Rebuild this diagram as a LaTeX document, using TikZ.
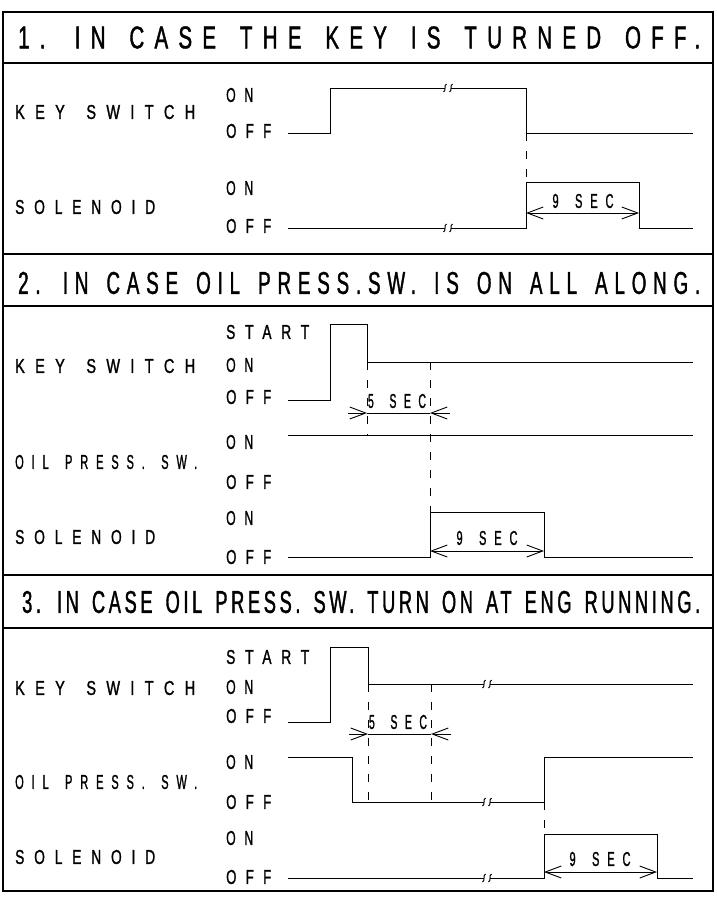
\documentclass[tikz,border=0pt]{standalone}
\usepackage{fontspec}
\usepackage{graphicx}
\setmainfont{Liberation Sans}
\newfontfamily\headfont[FakeStretch=0.6,FakeBold=1.2,LetterSpace=30,WordSpace=1.5]{Liberation Sans}
\newfontfamily\sigfont[FakeStretch=0.7,FakeBold=1.2,LetterSpace=50,WordSpace=1.5]{Liberation Sans}
\usetikzlibrary{arrows.meta}

\tikzset{
  frame/.style={line width=1.3pt},
  wave/.style={line width=1pt, line join=miter},
  guide/.style={line width=1pt, dash pattern=on 8pt off 10pt},
  dimline/.style={line width=0.9pt},
  barb/.tip={Straight Barb[length=16pt,width=12pt]},
  siglabel/.style={anchor=west, inner sep=0pt},
  dimlabel/.style={inner sep=0pt},
  headline/.style={anchor=west, inner sep=0pt}
}
% small break mark on a long level
\newcommand{\wavebreak}[2]{%
  \draw[wave] (#1-1.5,#2-4) .. controls (#1-5,#2-2) and (#1-1,#2+2) .. (#1-4.5,#2+4);
  \draw[wave] (#1+4.5,#2-4) .. controls (#1+1,#2-2) and (#1+5,#2+2) .. (#1+1.5,#2+4);}
\newcommand{\headtext}[2]{\resizebox{#1}{22pt}{\headfont\fontsize{30pt}{30pt}\selectfont #2}}
\newcommand{\sigtext}[2]{\resizebox{#1}{14pt}{\sigfont\fontsize{18pt}{18pt}\selectfont #2}}

\begin{document}
\begin{tikzpicture}[x=1pt,y=-1pt]
  \fill[white] (0,0) rectangle (716,899);
  \useasboundingbox (0,0) rectangle (716,899);

  % frame and title bars
  \draw[frame] (3,12) rectangle (713,891);
  \draw[frame] (3,63) -- (713,63);
  \draw[frame] (3,254) -- (713,254);
  \draw[frame] (3,306) -- (713,306);
  \draw[frame] (3,575) -- (713,575);
  \draw[frame] (3,628) -- (713,628);

  \node[headline] (head1) at (18,37.5) {\headtext{682pt}{1. IN CASE THE KEY IS TURNED OFF.}};
  \node[headline] (head2) at (18,283) {\headtext{682pt}{\addfontfeature{LetterSpace=22}2. IN CASE OIL PRESS.SW. IS ON ALL ALONG.}};
  \node[headline] (head3) at (22,602) {\headtext{678pt}{\addfontfeature{LetterSpace=12}3. IN CASE OIL PRESS. SW. TURN ON AT ENG RUNNING.}};

  % 1. key turned off
  \node[siglabel] (key1) at (15,112) {\sigtext{180pt}{KEY SWITCH}};
  \node[siglabel] (key1on) at (226,95) {\sigtext{27pt}{ON}};
  \node[siglabel] (key1off) at (226,131) {\sigtext{45pt}{OFF}};
  \node[siglabel] (sol1) at (15,207) {\sigtext{140pt}{SOLENOID}};
  \node[siglabel] (sol1on) at (226,188) {\sigtext{27pt}{ON}};
  \node[siglabel] (sol1off) at (226,226) {\sigtext{45pt}{OFF}};

  \draw[wave] (288,133) -- (330,133) -- (330,88) -- (445,88);
  \draw[wave] (451,88) -- (526,88) -- (526,133) -- (693,133);
  \wavebreak{448}{88}
  \draw[guide] (526,133) -- (526,182);
  \draw[wave] (288,228) -- (445,228);
  \draw[wave] (451,228) -- (526,228) -- (526,182) -- (639,182) -- (639,228) -- (693,228);
  \wavebreak{448}{228}

  \coordinate (t1a) at (526,213);
  \coordinate (t1b) at (639,213);
  \draw[dimline, barb-barb] (t1a) -- (t1b);
  \node[dimlabel] (t1) at (583,201) {\sigtext{61pt}{9 SEC}};

  % 2. oil press. sw. on all along
  \node[siglabel] (key2) at (15,366) {\sigtext{180pt}{KEY SWITCH}};
  \node[siglabel] (key2st) at (226,332) {\sigtext{83pt}{START}};
  \node[siglabel] (key2on) at (226,365) {\sigtext{27pt}{ON}};
  \node[siglabel] (key2off) at (226,397) {\sigtext{45pt}{OFF}};
  \node[siglabel] (oil2) at (15,462) {\sigtext{182pt}{OIL PRESS. SW.}};
  \node[siglabel] (oil2on) at (226,442) {\sigtext{27pt}{ON}};
  \node[siglabel] (oil2off) at (226,482) {\sigtext{45pt}{OFF}};
  \node[siglabel] (sol2) at (15,537) {\sigtext{140pt}{SOLENOID}};
  \node[siglabel] (sol2on) at (226,518) {\sigtext{27pt}{ON}};
  \node[siglabel] (sol2off) at (226,557) {\sigtext{45pt}{OFF}};

  \draw[wave] (288,400) -- (330,400) -- (330,324) -- (367,324) -- (367,362) -- (693,362);
  \draw[guide] (367,362) -- (367,435);
  \draw[guide] (430,362) -- (430,512);
  \draw[wave] (288,435) -- (693,435);
  \draw[wave] (288,557) -- (430,557) -- (430,512) -- (544,512) -- (544,557) -- (693,557);

  \coordinate (d2a) at (348,413);
  \coordinate (d2b) at (367,413);
  \coordinate (d2c) at (430,413);
  \coordinate (d2d) at (450,413);
  \draw[dimline, -barb] (d2a) -- (d2b);
  \draw[dimline, -barb] (d2d) -- (d2c);
  \draw[dimline] (d2b) -- (d2c);
  \node[dimlabel] (d2) at (397,401) {\sigtext{58pt}{5 SEC}};

  \coordinate (t2a) at (430,551);
  \coordinate (t2b) at (544,551);
  \draw[dimline, barb-barb] (t2a) -- (t2b);
  \node[dimlabel] (t2) at (487,538) {\sigtext{61pt}{9 SEC}};

  % 3. oil press. sw. on at eng running
  \node[siglabel] (key3) at (15,688) {\sigtext{180pt}{KEY SWITCH}};
  \node[siglabel] (key3st) at (226,657) {\sigtext{83pt}{START}};
  \node[siglabel] (key3on) at (226,687) {\sigtext{27pt}{ON}};
  \node[siglabel] (key3off) at (226,716) {\sigtext{45pt}{OFF}};
  \node[siglabel] (oil3) at (15,782) {\sigtext{182pt}{OIL PRESS. SW.}};
  \node[siglabel] (oil3on) at (226,762) {\sigtext{27pt}{ON}};
  \node[siglabel] (oil3off) at (226,802) {\sigtext{45pt}{OFF}};
  \node[siglabel] (sol3) at (15,857) {\sigtext{140pt}{SOLENOID}};
  \node[siglabel] (sol3on) at (226,838) {\sigtext{27pt}{ON}};
  \node[siglabel] (sol3off) at (226,877) {\sigtext{45pt}{OFF}};

  \draw[wave] (288,722) -- (330,722) -- (330,647) -- (368,647) -- (368,684) -- (484,684);
  \draw[wave] (490,684) -- (693,684);
  \wavebreak{487}{684}
  \draw[guide] (368,684) -- (368,802);
  \draw[guide] (431,684) -- (431,802);
  \draw[wave] (288,757) -- (352,757) -- (352,802) -- (484,802);
  \draw[wave] (490,802) -- (544,802) -- (544,757) -- (693,757);
  \wavebreak{487}{802}
  \draw[guide] (544,802) -- (544,834);
  \draw[wave] (288,878) -- (484,878);
  \draw[wave] (490,878) -- (544,878) -- (544,834) -- (657,834) -- (657,878) -- (693,878);
  \wavebreak{487}{878}

  \coordinate (d3a) at (349,734);
  \coordinate (d3b) at (368,734);
  \coordinate (d3c) at (431,734);
  \coordinate (d3d) at (451,734);
  \draw[dimline, -barb] (d3a) -- (d3b);
  \draw[dimline, -barb] (d3d) -- (d3c);
  \draw[dimline] (d3b) -- (d3c);
  \node[dimlabel] (d3) at (398,722) {\sigtext{58pt}{5 SEC}};

  \coordinate (t3a) at (544,872);
  \coordinate (t3b) at (657,872);
  \draw[dimline, barb-barb] (t3a) -- (t3b);
  \node[dimlabel] (t3) at (600,859) {\sigtext{61pt}{9 SEC}};
\end{tikzpicture}
\end{document}
